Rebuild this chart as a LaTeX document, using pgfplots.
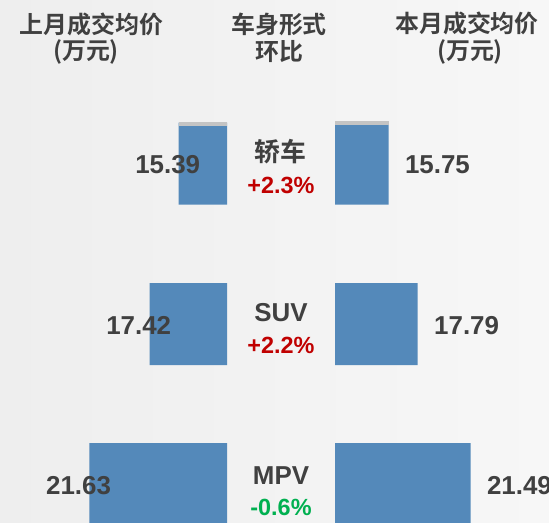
\documentclass[border=0pt]{standalone}
\usepackage{pgfplots}
\pgfplotsset{compat=1.18}
\usepackage{fontspec}
\setmainfont{Liberation Sans}
\newfontfamily\cjk{Noto Sans CJK SC}[BoldFont={Noto Sans CJK SC Bold}]
\definecolor{barblue}{RGB}{84,137,186}
\definecolor{txt}{RGB}{64,64,64}
\definecolor{upred}{RGB}{192,0,0}
\definecolor{downgreen}{RGB}{0,176,80}
\definecolor{strip}{RGB}{196,196,196}
\definecolor{bgl}{RGB}{238,238,238}
\definecolor{bgr}{RGB}{247,247,247}
\begin{document}
\begin{tikzpicture}
\fill[left color=bgl, right color=bgr] (0,0) rectangle (549bp,-523bp);
\pgfplotsset{cs/.style={scale only axis, height=523bp, ymin=0, ymax=523, y dir=reverse, hide axis, enlargelimits=false}}
% left: last month
\begin{axis}[cs, at={(0,0)}, anchor=north west, width=227bp, xmin=12, xmax=27.896, x dir=reverse]
\addplot[xbar, bar shift=0pt, bar width=82, fill=barblue, draw=none, point meta=x,
  nodes near coords={\pgfmathprintnumber[fixed,precision=2,fixed zerofill,assume math mode=true]{\pgfplotspointmeta}},
  every node near coord/.append style={anchor=east, xshift=25bp, yshift=-1.5bp, text=txt, font=\fontsize{26}{30}\selectfont\bfseries}]
  coordinates {(15.39,163.5) (17.42,324) (21.63,484)};
\addplot[xbar, bar shift=0pt, bar width=4, fill=strip, draw=none] coordinates {(15.39,123.5)};
\end{axis}
% right: this month
\begin{axis}[cs, at={(335bp,0)}, anchor=north west, width=214bp, xmin=12, xmax=26.986]
\addplot[xbar, bar shift=0pt, bar width=82, fill=barblue, draw=none, point meta=x,
  nodes near coords={\pgfmathprintnumber[fixed,precision=2,fixed zerofill,assume math mode=true]{\pgfplotspointmeta}},
  every node near coord/.append style={anchor=west, xshift=13bp, yshift=-1.5bp, text=txt, font=\fontsize{26}{30}\selectfont\bfseries}]
  coordinates {(15.75,163.5) (17.79,324) (21.49,484)};
\addplot[xbar, bar shift=0pt, bar width=4, fill=strip, draw=none] coordinates {(15.75,123)};
\end{axis}
% headers
\tikzset{hd/.style={text=txt, inner sep=0pt, font=\cjk\fontsize{24}{28}\selectfont\bfseries}}
\node[hd] at (91.5bp,-24bp) {上月成交均价};
\node[hd] at (86bp,-52bp) {(万元)};
\node[hd] at (279bp,-24bp) {车身形式};
\node[hd] at (279bp,-52bp) {环比};
\node[hd] at (467bp,-23bp) {本月成交均价};
\node[hd] at (470bp,-52bp) {(万元)};
% categories
\tikzset{cat/.style={text=txt, inner sep=0pt, font=\fontsize{26}{30}\selectfont\bfseries},
         pct/.style={inner sep=0pt, font=\fontsize{23.5}{28}\selectfont\bfseries}}
\node[cat, font=\cjk\fontsize{26}{30}\selectfont\bfseries] at (280bp,-152bp) {轿车};
\node[pct, text=upred] at (281bp,-185bp) {+2.3\%};
\node[cat] at (281bp,-313bp) {SUV};
\node[pct, text=upred] at (281bp,-345.5bp) {+2.2\%};
\node[cat] at (281bp,-476bp) {MPV};
\node[pct, text=downgreen] at (281bp,-507bp) {-0.6\%};
\pgfresetboundingbox
\useasboundingbox (0,0) rectangle (549bp,-523bp);
\end{tikzpicture}
\end{document}
